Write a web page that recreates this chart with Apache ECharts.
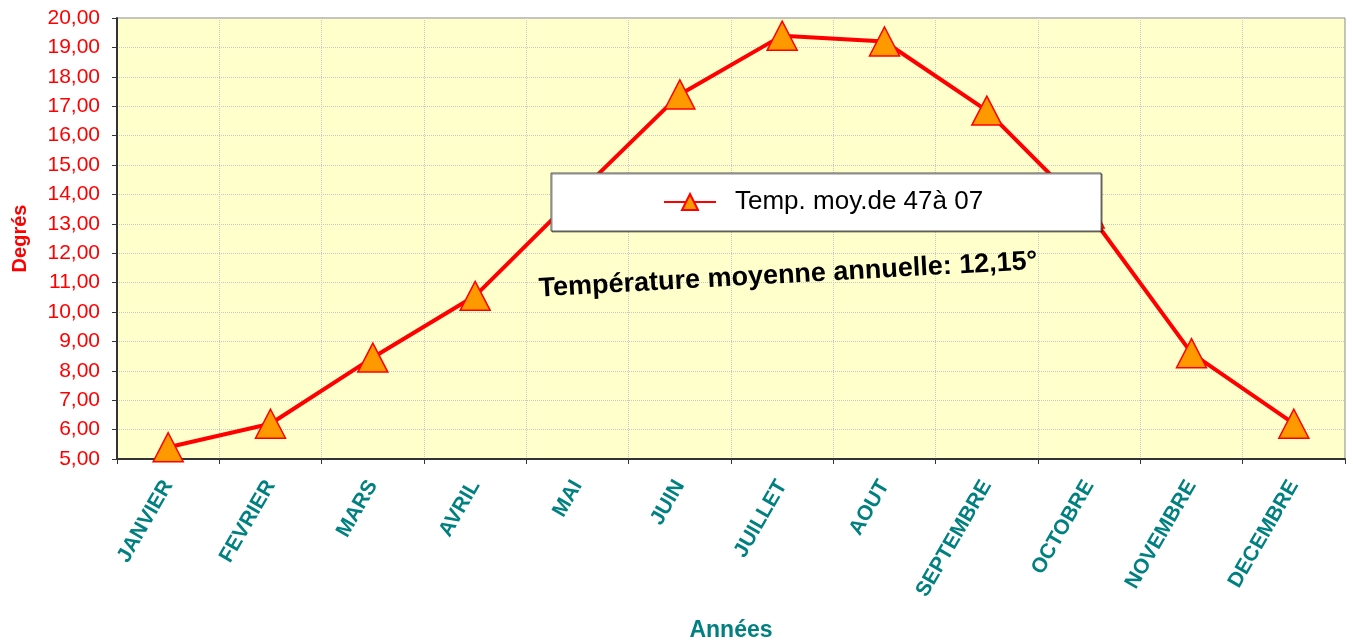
<!DOCTYPE html>
<html>
<head>
<meta charset="utf-8">
<script src="https://cdn.jsdelivr.net/npm/echarts@6/dist/echarts.min.js"></script>
<style>
  html, body { margin: 0; padding: 0; background: #ffffff; }
  #chart { width: 1353px; height: 641px; }
</style>
</head>
<body>
<div id="chart"></div>
<script>
// mois de l'annee
var mois = ['JANVIER', 'FEVRIER', 'MARS', 'AVRIL', 'MAI', 'JUIN',
            'JUILLET', 'AOUT', 'SEPTEMBRE', 'OCTOBRE', 'NOVEMBRE', 'DECEMBRE'];

// temperatures moyennes
var tempMoy = [5.4, 6.2, 8.45, 10.55, 14.0, 17.4, 19.4, 19.2, 16.85, 13.35, 8.6, 6.2];

var nomSerie = 'Temp. moy.de 47à 07';
var texteMoyenne = 'Température moyenne annuelle: 12,15°';

var chart = echarts.init(document.getElementById('chart'));

chart.setOption({
  animation: false,
  textStyle: {
    fontFamily: 'Arial, "Liberation Sans", sans-serif'
  },
  grid: {
    left: 117,
    right: 8,
    top: 18,
    bottom: 182,
    outerBoundsMode: 'none',
    show: true,
    backgroundColor: '#FFFFCC',
    borderColor: '#888888',
    borderWidth: 1
  },
  legend: {
    data: [nomSerie],
    left: 551,
    top: 173,
    padding: [16, 118, 16, 112],
    backgroundColor: '#ffffff',
    borderColor: '#555555',
    borderWidth: 1,
    shadowColor: 'rgba(0,0,0,0.45)',
    shadowOffsetX: 1,
    shadowOffsetY: 1,
    itemWidth: 52,
    itemHeight: 20,
    itemGap: 8,
    textStyle: {
      color: '#000000',
      fontSize: 26,
      padding: [0, 0, 0, 14]
    }
  },
  xAxis: {
    type: 'category',
    data: mois,
    boundaryGap: true,
    name: 'Années',
    nameLocation: 'middle',
    nameGap: 160,
    nameTextStyle: {
      color: '#008080',
      fontWeight: 'bold',
      fontSize: 23
    },
    axisLine: {
      lineStyle: { color: '#333333', width: 2 }
    },
    axisTick: {
      show: true,
      length: 5,
      lineStyle: { color: '#333333' }
    },
    axisLabel: {
      rotate: 60,
      margin: 23,
      color: '#008080',
      fontWeight: 'bold',
      fontSize: 21,
      padding: [0, 0, 9, 0]
    },
    splitLine: {
      show: true,
      lineStyle: { color: '#c8c8c8', type: 'dotted' }
    }
  },
  yAxis: {
    type: 'value',
    min: 5,
    max: 20,
    interval: 1,
    name: 'Degrés',
    nameLocation: 'middle',
    nameGap: 87,
    nameTextStyle: {
      color: '#FF0000',
      fontWeight: 'bold',
      fontSize: 20
    },
    axisLine: {
      show: true,
      lineStyle: { color: '#333333', width: 2 }
    },
    axisTick: {
      show: true,
      length: 5,
      lineStyle: { color: '#333333' }
    },
    axisLabel: {
      margin: 17,
      color: '#FF0000',
      fontSize: 21,
      formatter: function (v) {
        return v.toFixed(2).replace('.', ',');
      }
    },
    splitLine: {
      show: true,
      lineStyle: { color: '#c8c8c8', type: 'dotted' }
    }
  },
  graphic: [{
    type: 'text',
    left: 538,
    top: 248,
    rotation: 0.055,
    z: 10,
    style: {
      text: texteMoyenne,
      fill: '#000000',
      font: 'bold 27px Arial, "Liberation Sans", sans-serif'
    }
  }],
  series: [{
    name: nomSerie,
    type: 'line',
    data: tempMoy,
    symbol: 'triangle',
    symbolSize: [30, 29],
    lineStyle: { color: '#FF0000', width: 4 },
    itemStyle: {
      color: '#FF9900',
      borderColor: '#FF0000',
      borderWidth: 1.5
    },
    z: 3
  }]
});
</script>
</body>
</html>
